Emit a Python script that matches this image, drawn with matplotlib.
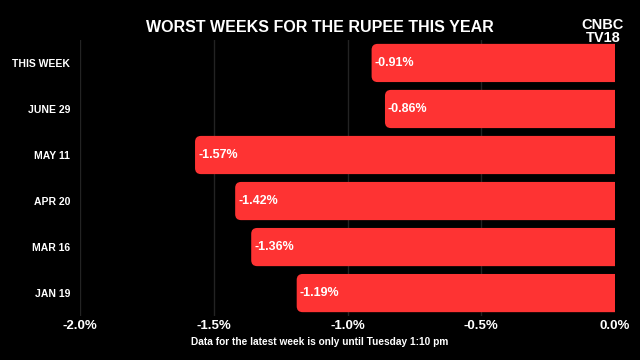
import matplotlib.pyplot as plt
from matplotlib.patches import FancyBboxPatch

# ----------------------------------------------
# Data
# ----------------------------------------------
weeks = ["THIS WEEK", "JUNE 29", "MAY 11", "APR 20", "MAR 16", "JAN 19"]
changes = [-0.91, -0.86, -1.57, -1.42, -1.36, -1.19]
x_ticks = [-2.0, -1.5, -1.0, -0.5, 0.0]
x_labels = ["-2.0%", "-1.5%", "-1.0%", "-0.5%", "0.0%"]

BAR_RED = "#fe3333"
FONT = ["Liberation Sans", "DejaVu Sans"]

fig = plt.figure(figsize=(6.4, 3.6), dpi=100, facecolor="black")
ax = fig.add_axes([0.125, 0.122, 0.836, 0.767], facecolor="black")

ax.set_xlim(-2.0, 0.0)
ax.set_ylim(len(weeks) - 0.5, -0.5)

# grid
for x in x_ticks[:-1]:
    ax.axvline(x, color="#232323", lw=1, zorder=0)

# bars, then swapped for rounded boxes
bars = ax.barh(range(len(weeks)), changes, height=0.83, color=BAR_RED)
# data units per pixel in x and y, to keep the corners round
x_per_px = 2.0 / (0.836 * 640)
y_per_px = 6.0 / (0.767 * 360)
for b, val in zip(bars, changes):
    b.set_visible(False)
    y0 = b.get_y()
    h = b.get_height()
    box = FancyBboxPatch((val, y0), -val + 0.1, h,
                         boxstyle=f"round,pad=0,rounding_size={6 * x_per_px}",
                         mutation_aspect=y_per_px / x_per_px,
                         fc=BAR_RED, ec="none", zorder=2, clip_on=True)
    ax.add_patch(box)
    ax.text(val + 3 * x_per_px, y0 + h / 2, f"{val:.2f}%", color="white",
            fontsize=9, fontweight="bold", family=FONT,
            ha="left", va="center", zorder=3)

ax.set_yticks(range(len(weeks)))
ax.set_yticklabels(weeks, color="white", fontsize=7.5, fontweight="bold", family=FONT)
ax.set_xticks(x_ticks)
ax.set_xticklabels(x_labels, color="white", fontsize=9.5, fontweight="bold", family=FONT)
ax.tick_params(length=0, pad=3)
ax.tick_params(axis="y", pad=7)
for s in ax.spines.values():
    s.set_visible(False)

# titles and logo
fig.text(0.5, 0.925, "WORST WEEKS FOR THE RUPEE THIS YEAR", color="white",
         fontsize=11.5, fontweight="bold", family=FONT, ha="center", va="center")
fig.text(0.942, 0.913, "CNBC\nTV18", color="white", fontsize=10.5,
         fontweight="bold", family=FONT, ha="center", va="center", linespacing=0.9)
fig.text(0.5, 0.05, "Data for the latest week is only until Tuesday 1:10 pm",
         color="white", fontsize=7.3, fontweight="bold", family=FONT,
         ha="center", va="center")

fig.savefig("out.png", dpi=100, facecolor="black")
